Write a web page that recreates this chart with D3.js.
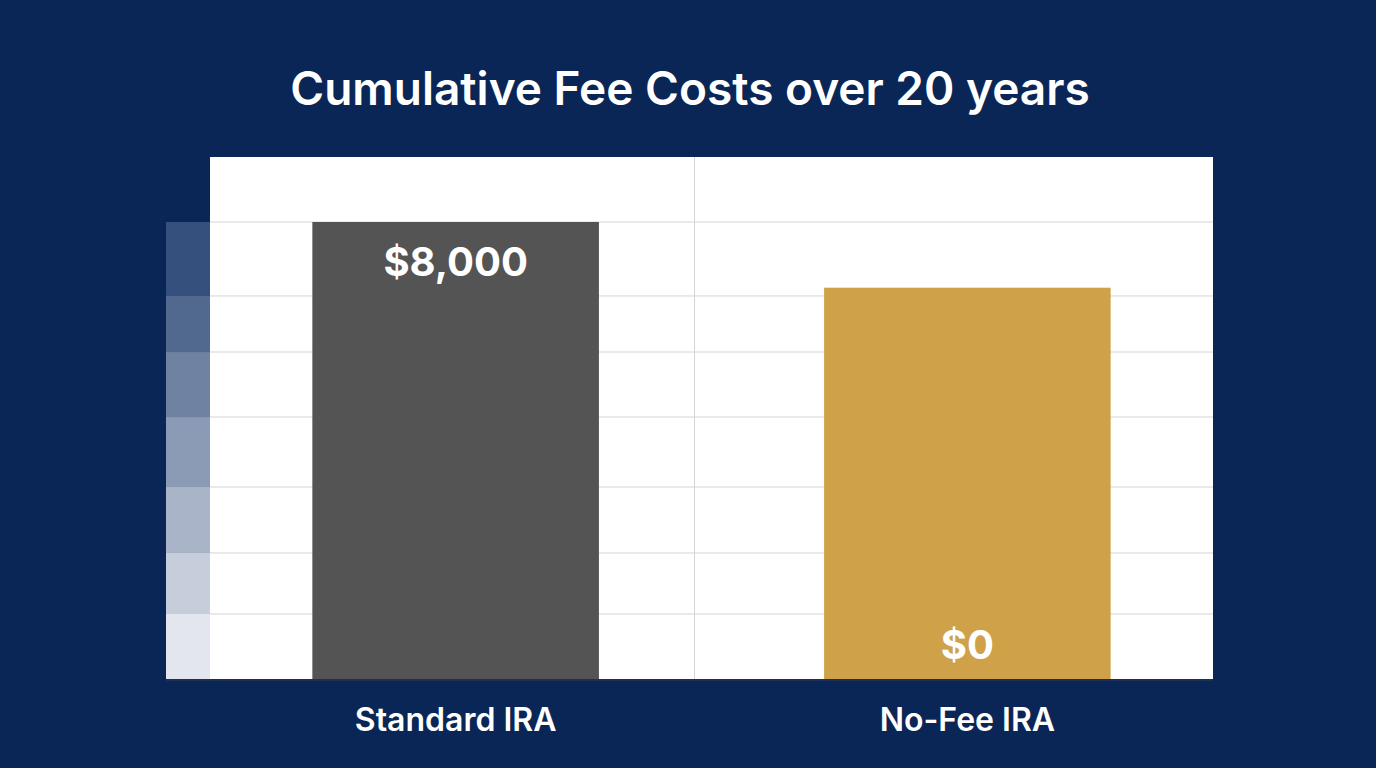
<!DOCTYPE html>
<html><head><meta charset="utf-8">
<script src="https://cdn.jsdelivr.net/npm/d3@7"></script>
<style>body{margin:0;background:#0a2656;}svg{display:block}</style>
</head><body><svg id="c" width="1376" height="768"></svg>
<script>
const categories = ["Standard IRA", "No-Fee IRA"];
const values = [8000, 6850];
const valueLabels = ["$8,000", "$0"];
const gridValues = [1138, 2206, 3361, 4586, 5724, 6705, 8000];
const colors = ["#545454", "#cfa24a"];

const svg = d3.select("#c");
svg.append("rect").attr("width",1376).attr("height",768).attr("fill","#0a2656");
svg.append("text").attr("x",690).attr("y",105).attr("text-anchor","middle")
  .attr("fill","#fff").attr("font-family","Inter, sans-serif").attr("font-weight",600)
  .attr("font-size",46).text("Cumulative Fee Costs over 20 years");

const L=210,R=1213,T=157,B=679;
const y=d3.scaleLinear().domain([0,9138]).range([B,T]);
const x=d3.scaleBand().domain(categories).range([L,R]).paddingInner(0.44).paddingOuter(0.2);

svg.append("rect").attr("x",L).attr("y",T).attr("width",R-L).attr("height",B-T).attr("fill","#fff");
// left strip blocks
const edges=[0,...gridValues];
const shade=d3.interpolateRgb("#e3e6ee","#35507c");
edges.forEach((v,i)=>{
  const top = i<gridValues.length? gridValues[i]:v;
  if(i>=gridValues.length) return;
  svg.append("rect").attr("x",166).attr("width",L-166)
    .attr("y",y(gridValues[i])).attr("height",y(v)-y(gridValues[i]))
    .attr("fill",shade(i/(gridValues.length-1)));
});
svg.selectAll(".g").data(gridValues).join("line")
  .attr("x1",L).attr("x2",R).attr("y1",d=>y(d)).attr("y2",d=>y(d))
  .attr("stroke","#d4d4d4").attr("stroke-width",1);
svg.append("line").attr("x1",(L+R)/2-17).attr("x2",(L+R)/2-17).attr("y1",T).attr("y2",B)
  .attr("stroke","#d4d4d4");

svg.selectAll(".bar").data(categories).join("rect")
  .attr("x",d=>x(d)).attr("width",x.bandwidth())
  .attr("y",(d,i)=>y(values[i])).attr("height",(d,i)=>B-y(values[i]))
  .attr("fill",(d,i)=>colors[i]);
svg.append("line").attr("x1",166).attr("x2",R).attr("y1",B+1).attr("y2",B+1).attr("stroke","#1c2f55").attr("stroke-width",2);

svg.selectAll(".vl").data(categories).join("text")
  .attr("x",d=>x(d)+x.bandwidth()/2)
  .attr("y",(d,i)=>i===0? y(values[i])+54 : B-20)
  .attr("text-anchor","middle").attr("fill","#fff")
  .attr("font-family","Inter, sans-serif").attr("font-weight",700).attr("font-size",40)
  .text((d,i)=>valueLabels[i]);
svg.selectAll(".cl").data(categories).join("text")
  .attr("x",d=>x(d)+x.bandwidth()/2).attr("y",731)
  .attr("text-anchor","middle").attr("fill","#fff")
  .attr("font-family","Inter, sans-serif").attr("font-weight",600).attr("font-size",32)
  .text(d=>d);
</script></body></html>
